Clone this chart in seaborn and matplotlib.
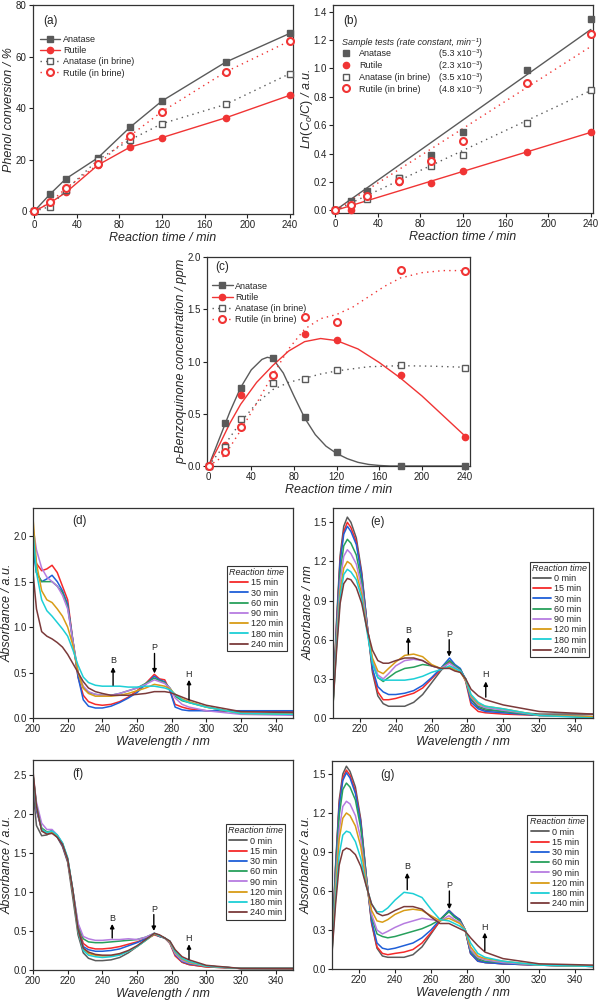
import numpy as np
import pandas as pd
import matplotlib
matplotlib.use('Agg')
import matplotlib.pyplot as plt
from matplotlib.lines import Line2D
from matplotlib.ticker import FormatStrFormatter
import seaborn as sns

# ---------------- kinetic data (panels a-c) ----------------
times = [0, 15, 30, 60, 90, 120, 180, 240]

# (a) phenol conversion / %
conv_anatase = [0, 6.7, 12.7, 20.8, 32.6, 42.8, 57.9, 69.0]
conv_rutile = [0, 3.3, 7.4, 18.0, 24.9, 28.6, 36.3, 45.0]
conv_anatase_brine = [0, 1.9, 8.3, 20.0, 27.7, 34.0, 41.5, 53.4]
conv_rutile_brine = [0, 3.5, 9.0, 18.2, 29.3, 38.7, 54.1, 66.1]

# (b) Ln(Co/C)
lnc_anatase = [0, 0.065, 0.135, 0.23, 0.39, 0.555, 0.99, 1.345]
lnc_rutile = [0, 0.005, 0.10, 0.20, 0.19, 0.28, 0.41, 0.555]
lnc_anatase_brine = [0, 0.05, 0.08, 0.225, 0.31, 0.39, 0.615, 0.85]
lnc_rutile_brine = [0, 0.04, 0.10, 0.205, 0.35, 0.49, 0.895, 1.245]
fit_t = [0, 240]
fit_anatase = [0, 1.275]
fit_rutile = [0, 0.55]
fit_anatase_brine = [0, 0.845]
fit_rutile_brine = [0, 1.155]
rate_labels = ['(5.3 x10⁻³)', '(2.3 x10⁻³)', '(3.5 x10⁻³)', '(4.8 x10⁻³)']

# (c) p-benzoquinone / ppm
bq_anatase = [0, 0.415, 0.745, 1.03, 0.465, 0.13, 0.0, 0.0]
bq_rutile = [0, 0.2, 0.68, 0.87, 1.26, 1.21, 0.875, 0.28]
bq_anatase_brine = [0, 0.18, 0.45, 0.79, 0.835, 0.92, 0.97, 0.94]
bq_rutile_brine = [0, 0.13, 0.37, 0.87, 1.43, 1.38, 1.88, 1.87]
bqfit_anatase_t = [0, 10, 20, 30, 40, 50, 55, 60, 70, 80, 90, 100, 110, 120, 130, 140, 150, 160, 170, 180, 240]
bqfit_anatase = [0, 0.26, 0.52, 0.75, 0.92, 1.02, 1.04, 1.03, 0.89, 0.67, 0.46, 0.3, 0.19, 0.12, 0.07, 0.035, 0.015, 0.005, 0, 0, 0]
bqfit_rutile_t = [0, 10, 20, 30, 45, 60, 75, 90, 105, 120, 140, 160, 180, 200, 220, 240]
bqfit_rutile = [0, 0.2, 0.41, 0.59, 0.8, 0.96, 1.1, 1.19, 1.22, 1.2, 1.12, 0.99, 0.84, 0.67, 0.48, 0.29]
bqfit_anatase_brine_t = [0, 15, 30, 45, 60, 75, 90, 105, 120, 150, 180, 210, 240]
bqfit_anatase_brine = [0, 0.2, 0.42, 0.6, 0.73, 0.8, 0.84, 0.88, 0.91, 0.95, 0.96, 0.955, 0.945]
bqfit_rutile_brine_t = [0, 15, 30, 45, 60, 75, 90, 105, 120, 135, 150, 165, 180, 200, 220, 240]
bqfit_rutile_brine = [0, 0.1, 0.34, 0.6, 0.87, 1.12, 1.31, 1.41, 1.45, 1.52, 1.62, 1.72, 1.8, 1.85, 1.87, 1.87]

# ---------------- UV-vis spectra (panels d-g) ----------------
wl_df = [200, 202, 205, 208, 211, 214, 217, 220, 223, 226, 229, 232, 236, 240, 245,
         250, 255, 260, 265, 270, 273, 276, 279, 282, 286, 290, 300, 320, 350]
wl_eg = [205, 207, 209, 211, 213, 215, 218, 221, 224, 227, 230, 233, 236, 240, 245,
         250, 255, 260, 265, 270, 273, 276, 279, 282, 286, 290, 300, 320, 350]

abs_d = {
    15: [1.95, 1.7, 1.62, 1.64, 1.68, 1.6, 1.45, 1.3, 0.85, 0.45, 0.25, 0.18, 0.15, 0.14, 0.15, 0.18, 0.23, 0.3, 0.38, 0.48, 0.43, 0.42, 0.3, 0.15, 0.12, 0.1, 0.08, 0.07, 0.07],
    30: [1.85, 1.6, 1.5, 1.53, 1.57, 1.5, 1.4, 1.25, 0.85, 0.45, 0.2, 0.13, 0.11, 0.11, 0.13, 0.17, 0.22, 0.28, 0.37, 0.46, 0.42, 0.40, 0.3, 0.12, 0.09, 0.08, 0.08, 0.08, 0.08],
    60: [2.0, 1.6, 1.5, 1.5, 1.5, 1.45, 1.38, 1.22, 0.85, 0.5, 0.33, 0.28, 0.26, 0.25, 0.25, 0.27, 0.3, 0.33, 0.38, 0.44, 0.41, 0.39, 0.33, 0.24, 0.19, 0.17, 0.12, 0.05, 0.04],
    90: [2.1, 1.85, 1.65, 1.55, 1.5, 1.45, 1.35, 1.2, 0.85, 0.5, 0.35, 0.29, 0.26, 0.25, 0.25, 0.27, 0.3, 0.33, 0.37, 0.42, 0.4, 0.38, 0.33, 0.22, 0.15, 0.12, 0.08, 0.04, 0.03],
    120: [2.2, 1.7, 1.4, 1.3, 1.27, 1.2, 1.12, 1.0, 0.8, 0.5, 0.33, 0.27, 0.24, 0.24, 0.24, 0.25, 0.27, 0.3, 0.33, 0.37, 0.36, 0.35, 0.32, 0.26, 0.21, 0.18, 0.12, 0.05, 0.04],
    180: [2.05, 1.6, 1.3, 1.18, 1.12, 1.05, 0.98, 0.9, 0.75, 0.58, 0.45, 0.39, 0.36, 0.35, 0.35, 0.35, 0.34, 0.34, 0.35, 0.35, 0.34, 0.33, 0.31, 0.26, 0.2, 0.17, 0.12, 0.05, 0.04],
    240: [1.6, 1.2, 0.95, 0.9, 0.87, 0.83, 0.78, 0.7, 0.6, 0.5, 0.4, 0.33, 0.29, 0.27, 0.25, 0.25, 0.25, 0.26, 0.27, 0.29, 0.29, 0.29, 0.28, 0.26, 0.23, 0.2, 0.14, 0.07, 0.06],
}
abs_e = {
    0: [0.15, 0.75, 1.25, 1.47, 1.54, 1.5, 1.38, 1.12, 0.72, 0.35, 0.17, 0.11, 0.09, 0.09, 0.09, 0.12, 0.18, 0.27, 0.36, 0.44, 0.40, 0.37, 0.3, 0.14, 0.08, 0.06, 0.05, 0.03, 0.03],
    15: [0.12, 0.72, 1.22, 1.43, 1.50, 1.46, 1.35, 1.1, 0.72, 0.37, 0.2, 0.14, 0.14, 0.15, 0.17, 0.19, 0.23, 0.3, 0.37, 0.43, 0.39, 0.37, 0.28, 0.1, 0.05, 0.04, 0.03, 0.02, 0.01],
    30: [0.12, 0.7, 1.2, 1.41, 1.47, 1.43, 1.33, 1.09, 0.72, 0.38, 0.24, 0.2, 0.18, 0.18, 0.19, 0.21, 0.25, 0.31, 0.38, 0.46, 0.41, 0.38, 0.29, 0.12, 0.07, 0.05, 0.04, 0.02, 0.01],
    60: [0.12, 0.65, 1.12, 1.32, 1.37, 1.34, 1.25, 1.04, 0.7, 0.42, 0.31, 0.28, 0.31, 0.35, 0.38, 0.39, 0.41, 0.40, 0.38, 0.44, 0.40, 0.37, 0.29, 0.15, 0.09, 0.07, 0.05, 0.02, 0.01],
    90: [0.12, 0.62, 1.05, 1.24, 1.29, 1.26, 1.18, 1.0, 0.7, 0.44, 0.33, 0.3, 0.34, 0.40, 0.44, 0.45, 0.44, 0.40, 0.38, 0.42, 0.39, 0.36, 0.29, 0.16, 0.1, 0.08, 0.06, 0.02, 0.01],
    120: [0.1, 0.58, 0.98, 1.15, 1.20, 1.18, 1.11, 0.95, 0.68, 0.46, 0.36, 0.34, 0.38, 0.43, 0.48, 0.49, 0.47, 0.41, 0.38, 0.39, 0.37, 0.35, 0.29, 0.17, 0.11, 0.09, 0.07, 0.02, 0.01],
    180: [0.1, 0.55, 0.93, 1.1, 1.14, 1.12, 1.06, 0.92, 0.66, 0.42, 0.31, 0.29, 0.29, 0.29, 0.29, 0.3, 0.32, 0.35, 0.37, 0.40, 0.38, 0.36, 0.3, 0.18, 0.12, 0.09, 0.07, 0.02, 0.0],
    240: [0.1, 0.52, 0.88, 1.03, 1.07, 1.06, 1.0, 0.88, 0.68, 0.52, 0.44, 0.42, 0.42, 0.44, 0.46, 0.46, 0.44, 0.40, 0.38, 0.38, 0.36, 0.35, 0.3, 0.22, 0.17, 0.14, 0.1, 0.05, 0.03],
}
abs_f = {
    0: [2.3, 1.85, 1.72, 1.73, 1.77, 1.7, 1.58, 1.38, 0.92, 0.45, 0.22, 0.15, 0.12, 0.12, 0.13, 0.16, 0.22, 0.3, 0.38, 0.46, 0.43, 0.41, 0.36, 0.2, 0.1, 0.07, 0.04, 0.02, 0.02],
    15: [2.45, 2.05, 1.8, 1.76, 1.78, 1.71, 1.6, 1.4, 1.0, 0.55, 0.34, 0.29, 0.27, 0.27, 0.28, 0.3, 0.33, 0.36, 0.4, 0.45, 0.43, 0.41, 0.34, 0.18, 0.1, 0.07, 0.04, 0.02, 0.01],
    30: [2.45, 2.05, 1.8, 1.76, 1.78, 1.71, 1.6, 1.4, 1.0, 0.52, 0.3, 0.26, 0.24, 0.24, 0.25, 0.27, 0.31, 0.35, 0.4, 0.46, 0.43, 0.41, 0.35, 0.2, 0.11, 0.08, 0.05, 0.02, 0.02],
    60: [2.5, 2.1, 1.82, 1.77, 1.78, 1.72, 1.62, 1.42, 1.02, 0.58, 0.4, 0.36, 0.35, 0.35, 0.36, 0.37, 0.38, 0.39, 0.42, 0.47, 0.44, 0.41, 0.35, 0.21, 0.12, 0.09, 0.05, 0.02, 0.02],
    90: [2.5, 2.15, 1.88, 1.8, 1.8, 1.73, 1.62, 1.42, 1.02, 0.6, 0.43, 0.4, 0.38, 0.38, 0.39, 0.39, 0.4, 0.39, 0.42, 0.47, 0.44, 0.41, 0.35, 0.21, 0.12, 0.09, 0.05, 0.02, 0.02],
    120: [2.5, 2.1, 1.8, 1.76, 1.77, 1.72, 1.62, 1.42, 1.0, 0.5, 0.27, 0.21, 0.19, 0.18, 0.18, 0.2, 0.24, 0.3, 0.38, 0.46, 0.44, 0.41, 0.36, 0.23, 0.14, 0.1, 0.05, 0.02, 0.02],
    180: [2.5, 2.1, 1.8, 1.76, 1.78, 1.73, 1.63, 1.44, 1.02, 0.5, 0.25, 0.19, 0.17, 0.16, 0.17, 0.19, 0.24, 0.3, 0.38, 0.47, 0.44, 0.41, 0.37, 0.24, 0.15, 0.11, 0.05, 0.02, 0.02],
    240: [2.55, 2.1, 1.78, 1.74, 1.75, 1.7, 1.61, 1.42, 1.02, 0.52, 0.28, 0.23, 0.2, 0.19, 0.19, 0.21, 0.25, 0.31, 0.39, 0.47, 0.45, 0.41, 0.37, 0.26, 0.17, 0.13, 0.06, 0.02, 0.02],
}
abs_g = {
    0: [0.2, 0.8, 1.3, 1.5, 1.56, 1.52, 1.4, 1.15, 0.72, 0.35, 0.16, 0.1, 0.09, 0.09, 0.09, 0.11, 0.17, 0.27, 0.37, 0.45, 0.40, 0.38, 0.3, 0.12, 0.07, 0.05, 0.04, 0.03, 0.02],
    15: [0.18, 0.78, 1.27, 1.47, 1.53, 1.49, 1.37, 1.13, 0.72, 0.36, 0.17, 0.12, 0.11, 0.12, 0.13, 0.15, 0.2, 0.28, 0.37, 0.45, 0.41, 0.38, 0.3, 0.12, 0.06, 0.05, 0.04, 0.03, 0.02],
    30: [0.18, 0.77, 1.25, 1.45, 1.51, 1.47, 1.35, 1.12, 0.72, 0.37, 0.2, 0.16, 0.15, 0.16, 0.18, 0.2, 0.24, 0.3, 0.38, 0.45, 0.41, 0.38, 0.3, 0.12, 0.06, 0.05, 0.04, 0.03, 0.02],
    60: [0.17, 0.72, 1.18, 1.38, 1.43, 1.4, 1.3, 1.08, 0.7, 0.4, 0.27, 0.25, 0.24, 0.25, 0.27, 0.29, 0.31, 0.34, 0.38, 0.44, 0.40, 0.37, 0.3, 0.14, 0.08, 0.06, 0.05, 0.03, 0.02],
    90: [0.15, 0.65, 1.07, 1.25, 1.29, 1.27, 1.18, 1.0, 0.68, 0.42, 0.3, 0.27, 0.29, 0.32, 0.35, 0.37, 0.39, 0.38, 0.37, 0.41, 0.38, 0.36, 0.3, 0.15, 0.09, 0.07, 0.05, 0.03, 0.02],
    120: [0.14, 0.6, 1.0, 1.16, 1.2, 1.18, 1.1, 0.94, 0.66, 0.45, 0.37, 0.36, 0.38, 0.42, 0.45, 0.46, 0.45, 0.41, 0.37, 0.39, 0.37, 0.35, 0.3, 0.17, 0.1, 0.08, 0.06, 0.03, 0.02],
    180: [0.13, 0.55, 0.88, 1.03, 1.06, 1.05, 0.98, 0.85, 0.64, 0.5, 0.44, 0.44, 0.47, 0.53, 0.59, 0.58, 0.55, 0.46, 0.38, 0.37, 0.35, 0.33, 0.3, 0.2, 0.12, 0.09, 0.06, 0.03, 0.02],
    240: [0.12, 0.5, 0.8, 0.91, 0.93, 0.92, 0.88, 0.79, 0.64, 0.5, 0.43, 0.41, 0.42, 0.45, 0.48, 0.48, 0.46, 0.4, 0.35, 0.35, 0.33, 0.31, 0.29, 0.24, 0.18, 0.13, 0.08, 0.04, 0.03],
}

# band markers: (label, wavelength, arrow tail, arrow head, label y)
bands_d = [('B', 246.2, 0.36, 0.56, 0.63), ('P', 270.1, 0.71, 0.49, 0.77), ('H', 290.0, 0.20, 0.42, 0.48)]
bands_e = [('B', 247.0, 0.49, 0.62, 0.67), ('P', 269.8, 0.60, 0.47, 0.64), ('H', 290.2, 0.16, 0.28, 0.33)]
bands_f = [('B', 245.7, 0.41, 0.59, 0.66), ('P', 269.7, 0.71, 0.50, 0.78), ('H', 290.0, 0.14, 0.33, 0.40)]
bands_g = [('B', 246.8, 0.61, 0.74, 0.79), ('P', 270.2, 0.60, 0.46, 0.64), ('H', 289.9, 0.14, 0.28, 0.32)]

GRAY = '#5a5a5a'
RED = '#f03434'
spec_colors = {0: '#5b5b5b', 15: '#f52a2a', 30: '#1f5fd8', 60: '#27a05c',
               90: '#b67ce0', 120: '#d89c17', 180: '#1dcfd6', 240: '#7b3a3a'}
DOTS = (0, (1, 3))

sns.set_theme(style='ticks')
plt.rcParams['font.family'] = ['Liberation Sans', 'DejaVu Sans']
plt.rcParams['mathtext.fontset'] = 'custom'
plt.rcParams['mathtext.rm'] = 'Liberation Sans'
plt.rcParams['mathtext.it'] = 'Liberation Sans:italic'

fig = plt.figure(figsize=(6, 10.01), dpi=100)
W, H = 600, 1001


def add_axes(left, top, right, bottom):
    ax = fig.add_axes([left / W, 1 - bottom / H, (right - left) / W, (bottom - top) / H])
    ax._px_left = left
    ax._px_width = right - left
    return ax


def style_axes(ax, xlim, ylim, xticks, yticks, xlabel, ylabel, yfmt=None, ylab_x=None):
    ax.set_xlim(*xlim)
    ax.set_ylim(*ylim)
    ax.set_xticks(xticks)
    ax.set_yticks(yticks)
    if yfmt:
        ax.yaxis.set_major_formatter(FormatStrFormatter(yfmt))
    ax.set_xlabel(xlabel, fontsize=9, fontstyle='italic', labelpad=1.0)
    ax.set_ylabel(ylabel, fontsize=9, fontstyle='italic')
    if ylab_x is not None:
        # right edge of the rotated y label, in figure pixels
        ax.yaxis.set_label_coords(-(ax._px_left - ylab_x) / ax._px_width, 0.5)
    ax.tick_params(direction='out', length=3, width=0.8, labelsize=7, pad=1.5, colors='#222')
    for s in ax.spines.values():
        s.set_visible(True)
        s.set_linewidth(0.9)
        s.set_color('#333333')


series_style = {
    'Anatase': dict(color=GRAY, linestyle='-', marker='s', mfc=GRAY, mec=GRAY, ms=4.2, mew=1),
    'Rutile': dict(color=RED, linestyle='-', marker='o', mfc=RED, mec=RED, ms=4.5, mew=1),
    'Anatase (in brine)': dict(color=GRAY, linestyle=DOTS, marker='s', mfc='white', mec=GRAY, ms=4.0, mew=1),
    'Rutile (in brine)': dict(color=RED, linestyle=DOTS, marker='o', mfc='white', mec=RED, ms=5.0, mew=1.5),
}
names = list(series_style)


def kinetic_legend(ax, anchor):
    handles = [Line2D([], [], lw=1, **series_style[n]) for n in names]
    ax.legend(handles, names, loc='upper left', bbox_to_anchor=anchor, frameon=False,
              fontsize=6.5, handlelength=2.3, handletextpad=0.3, labelspacing=0.25, borderaxespad=0)


def panel_label(ax, s, x, y):
    ax.text(x, y, s, transform=ax.transAxes, fontsize=8.5, va='center', ha='left')


# ---------------- (a) ----------------
ax = add_axes(33, 5, 293, 214)
for n, vals in zip(names, [conv_anatase, conv_rutile, conv_anatase_brine, conv_rutile_brine]):
    st = series_style[n]
    sns.lineplot(x=times, y=vals, ax=ax, estimator=None, sort=False, lw=1,
                 color=st['color'], linestyle=st['linestyle'], marker=st['marker'],
                 markerfacecolor=st['mfc'], markeredgecolor=st['mec'],
                 markersize=st['ms'], markeredgewidth=st['mew'], clip_on=False, zorder=3)
style_axes(ax, (-1, 243), (-1, 80), range(0, 241, 40), range(0, 81, 20),
           'Reaction time / min', 'Phenol conversion / %', ylab_x=15)
panel_label(ax, '(a)', 0.04, 0.925)
kinetic_legend(ax, (0.012, 0.875))

# ---------------- (b) ----------------
ax = add_axes(333, 5, 593, 213)
for vals, fit, n in zip([lnc_anatase, lnc_rutile, lnc_anatase_brine, lnc_rutile_brine],
                        [fit_anatase, fit_rutile, fit_anatase_brine, fit_rutile_brine], names):
    st = series_style[n]
    sns.lineplot(x=fit_t, y=fit, ax=ax, estimator=None, sort=False, lw=1,
                 color=st['color'], linestyle=st['linestyle'], zorder=2)
    sns.lineplot(x=times, y=vals, ax=ax, estimator=None, sort=False, linestyle='none',
                 marker=st['marker'], markerfacecolor=st['mfc'], markeredgecolor=st['mec'],
                 markersize=st['ms'], markeredgewidth=st['mew'], clip_on=False, zorder=3)
style_axes(ax, (-2, 242), (-0.018, 1.447), range(0, 241, 40), np.arange(0, 1.41, 0.2),
           'Reaction time / min', r'$Ln(C_o/C)$ / a.u.', yfmt='%.1f', ylab_x=315)
panel_label(ax, '(b)', 0.04, 0.925)
h1 = [Line2D([], [], ls='none', marker=series_style[n]['marker'], mfc=series_style[n]['mfc'],
             mec=series_style[n]['mec'], ms=series_style[n]['ms'], mew=series_style[n]['mew'])
      for n in names]
h2 = [Line2D([], [], ls='none') for _ in names]
leg = ax.legend(h1 + h2, names + rate_labels, ncol=2, loc='upper left', bbox_to_anchor=(0.02, 0.86),
                frameon=False, fontsize=6.5, handlelength=1.0, handletextpad=0.9,
                columnspacing=-0.9, labelspacing=0.3, borderaxespad=0,
                title='Sample tests (rate constant, min⁻¹)',
                title_fontproperties={'size': 6.5, 'style': 'italic'}, alignment='left')

# ---------------- (c) ----------------
ax = add_axes(207, 257, 470, 466)
fits_c = [(bqfit_anatase_t, bqfit_anatase), (bqfit_rutile_t, bqfit_rutile),
          (bqfit_anatase_brine_t, bqfit_anatase_brine), (bqfit_rutile_brine_t, bqfit_rutile_brine)]
for n, vals, (ft, fv) in zip(names, [bq_anatase, bq_rutile, bq_anatase_brine, bq_rutile_brine], fits_c):
    st = series_style[n]
    sns.lineplot(x=ft, y=fv, ax=ax, estimator=None, sort=False, lw=1,
                 color=st['color'], linestyle=st['linestyle'], zorder=2)
    sns.lineplot(x=times, y=vals, ax=ax, estimator=None, sort=False, linestyle='none',
                 marker=st['marker'], markerfacecolor=st['mfc'], markeredgecolor=st['mec'],
                 markersize=st['ms'], markeredgewidth=st['mew'], clip_on=False, zorder=3)
style_axes(ax, (-1.5, 245), (0, 2.0), range(0, 241, 40), np.arange(0, 2.01, 0.5),
           'Reaction time / min', 'p-Benzoquinone concentration / ppm', yfmt='%.1f', ylab_x=187)
panel_label(ax, '(c)', 0.03, 0.95)
kinetic_legend(ax, (0.005, 0.9))


# ---------------- spectra ----------------
def draw_spectra(ax, wl, spectra, bands):
    order = list(spectra)
    df = pd.DataFrame([(w, a, t) for t in order for w, a in zip(wl, spectra[t])],
                      columns=['wl', 'absorbance', 'time'])
    sns.lineplot(data=df, x='wl', y='absorbance', hue='time', hue_order=order,
                 palette=spec_colors, estimator=None, sort=False, lw=1.1, legend=False, ax=ax)
    for lab, x, tail, head, ly in bands:
        ax.annotate('', xy=(x, head), xytext=(x, tail),
                    arrowprops=dict(arrowstyle='-|>', color='black', lw=1.0,
                                    mutation_scale=6, shrinkA=0, shrinkB=0))
        ax.text(x, ly, lab, ha='center', va='center', fontsize=6.5)
    handles = [Line2D([], [], color=spec_colors[t], lw=1.3) for t in order]
    return handles, [f'{t} min' for t in order]


def spectra_legend(ax, handles, labels, anchor):
    leg = ax.legend(handles, labels, loc='upper right', bbox_to_anchor=anchor, fontsize=6.5,
                    title='Reaction time', title_fontproperties={'size': 6.5, 'style': 'italic'},
                    frameon=True, fancybox=False, edgecolor='#333333', framealpha=1,
                    handlelength=2.0, handletextpad=0.3, labelspacing=0.14, borderpad=0.25,
                    borderaxespad=0)
    leg.get_frame().set_linewidth(0.8)


panels = [
    ((33, 508, 293, 718), wl_df, abs_d, bands_d, (200, 350), (0, 2.31), [0, 0.5, 1.0, 1.5, 2.0],
     'Absorbance / a.u.', '(d)', (0.15, 0.94), (0.975, 0.725), 14),
    ((333, 508, 593, 718), wl_eg, abs_e, bands_e, (205, 350), (0, 1.61), [0, 0.3, 0.6, 0.9, 1.2, 1.5],
     'Absorbance / nm', '(e)', (0.145, 0.935), (0.985, 0.745), 315),
    ((33, 760, 293, 970), wl_df, abs_f, bands_f, (200, 350), (0, 2.69), [0, 0.5, 1.0, 1.5, 2.0, 2.5],
     'Absorbance / a.u.', '(f)', (0.15, 0.933), (0.97, 0.695), 14),
    ((332, 761, 593, 969), wl_eg, abs_g, bands_g, (205, 350), (0, 1.6), [0, 0.3, 0.6, 0.9, 1.2, 1.5],
     'Absorbance / a.u.', '(g)', (0.184, 0.933), (0.977, 0.74), 313),
]
for box, wl, spectra, bands, xlim, ylim, yticks, ylab, tag, tagpos, legpos, ylx in panels:
    ax = add_axes(*box)
    handles, labels = draw_spectra(ax, wl, spectra, bands)
    xt = range(200, 341, 20) if xlim[0] == 200 else range(220, 341, 20)
    style_axes(ax, xlim, ylim, xt, yticks, 'Wavelength / nm', ylab, yfmt='%.1f', ylab_x=ylx)
    panel_label(ax, tag, *tagpos)
    spectra_legend(ax, handles, labels, legpos)

fig.savefig('out.png', dpi=100)
